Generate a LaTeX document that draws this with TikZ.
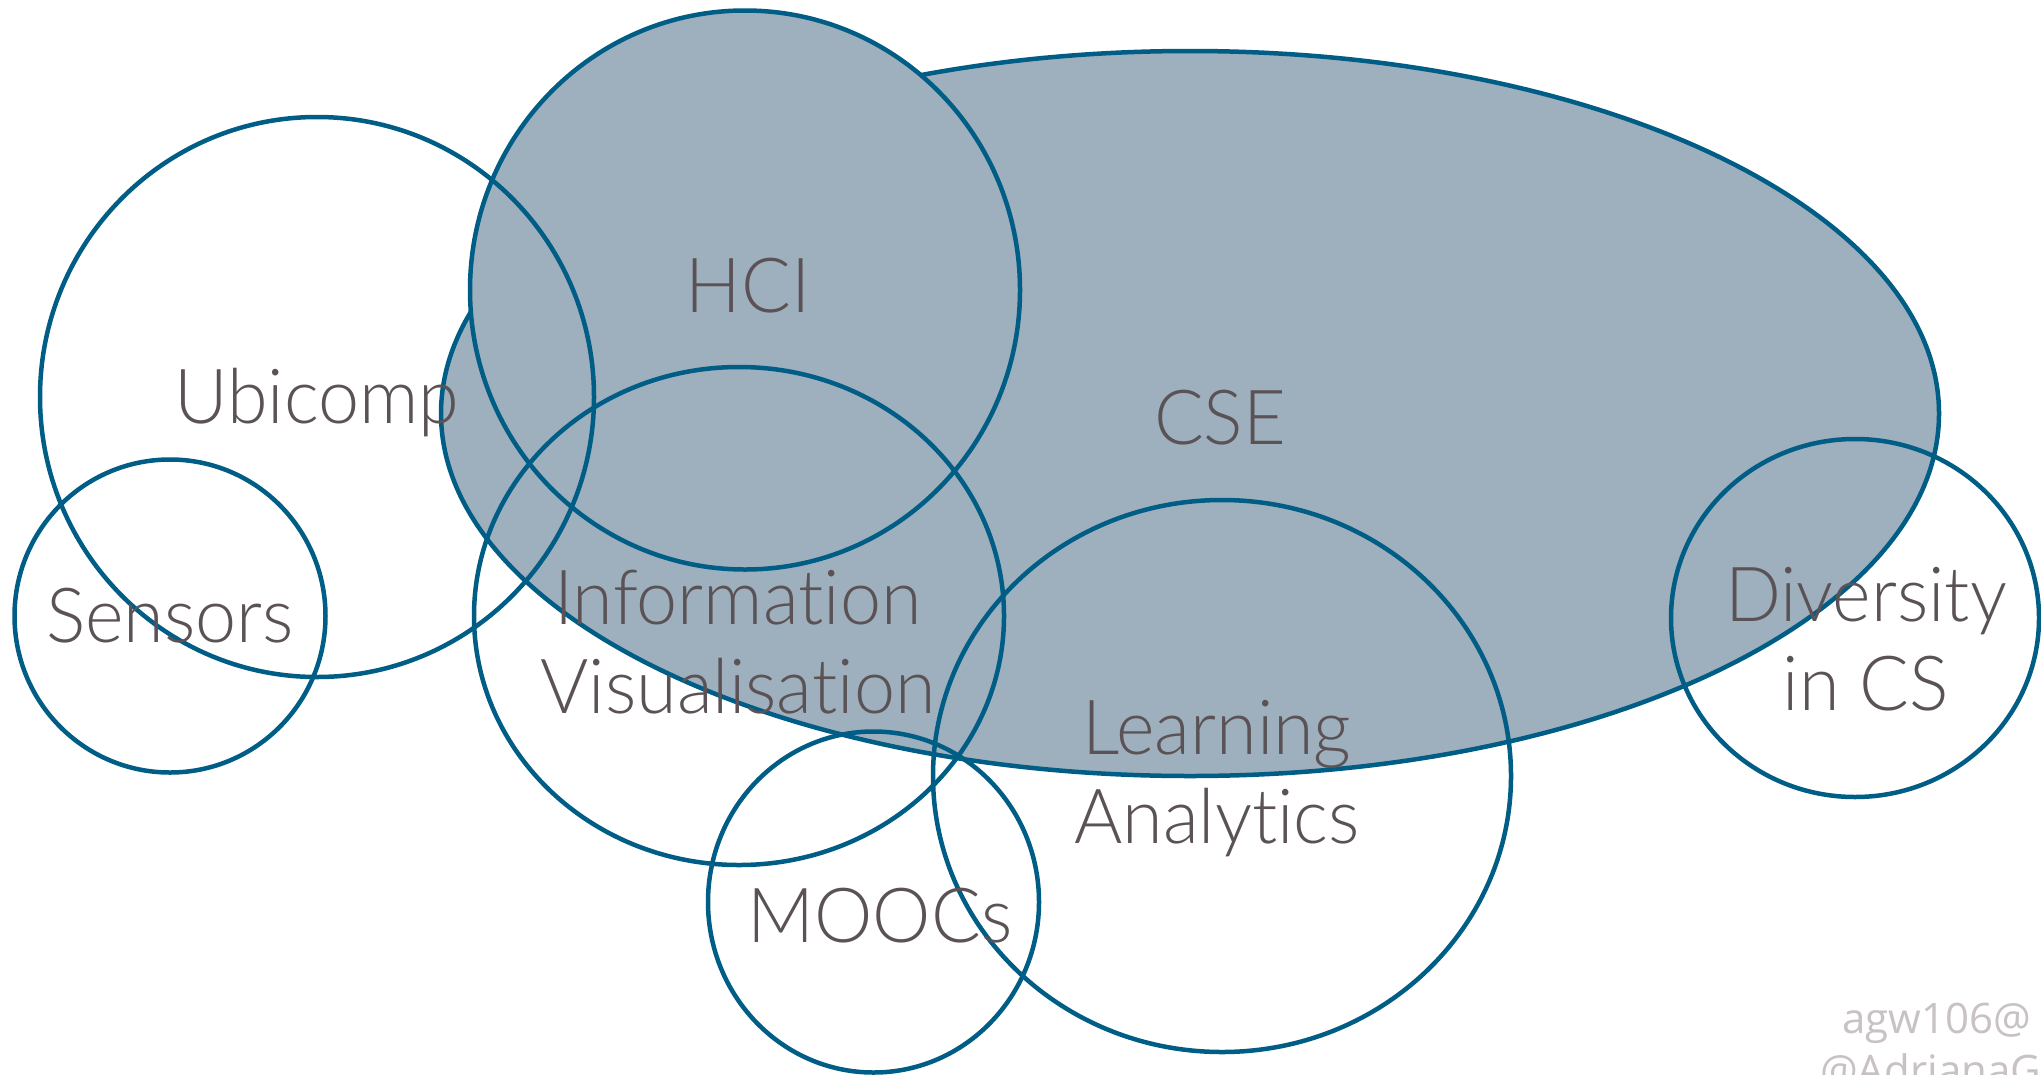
\documentclass[tikz,border=0pt]{standalone}
\usepackage{fontspec}
\setmainfont{Lato}[UprightFont=* Light, BoldFont=* Light, FakeStretch=0.97,
  Ligatures={NoCommon, NoRare, NoContextual}]
\newfontfamily\markfont{Open Sans}
\definecolor{setline}{RGB}{0,93,133}
\definecolor{setfill}{RGB}{158,176,189}
\definecolor{labelgray}{RGB}{91,82,86}
\definecolor{markgray}{RGB}{200,194,196}
\tikzset{
  outline/.style={draw=setline, line width=4.5pt},
  filledset/.style={outline, fill=setfill},
  % anchor=base sits on the baseline of the last line of a label
  setlabel/.style={text=labelgray, inner sep=0pt, anchor=base, align=center,
    font=\fontsize{76}{88.5}\selectfont},
  marklabel/.style={text=markgray, inner sep=0pt, anchor=base west,
    font=\markfont\fontsize{42}{52}\selectfont}
}
\begin{document}
\begin{tikzpicture}[x=1pt, y=-1pt]
  \useasboundingbox (0,0) rectangle (2041,1074);
  \clip (0,0) rectangle (2041,1074);
  \fill[white] (0,0) rectangle (2041,1074);

  % shaded sets: CSE, then HCI on top of it
  \draw[filledset] (1190,413.5) ellipse [x radius=749, y radius=362.5];
  \draw[filledset] (745,290) ellipse [x radius=275, y radius=279.5];

  % open sets
  \draw[outline] (317,397) ellipse [x radius=277, y radius=280];   % Ubicomp
  \draw[outline] (170,616) ellipse [x radius=155.5, y radius=156.5]; % Sensors
  \draw[outline] (739,616) ellipse [x radius=265, y radius=249];   % Information Visualisation
  \draw[outline] (1222,776) ellipse [x radius=289, y radius=276];  % Learning Analytics
  \draw[outline] (873.5,902) ellipse [x radius=165.5, y radius=170.5]; % MOOCs
  \draw[outline] (1855,618) ellipse [x radius=184, y radius=179];  % Diversity in CS

  % set names
  \node[setlabel] (hci) at (748,312) {HCI};
  \node[setlabel] (ubicomp) at (317,423) {Ubicomp};
  \node[setlabel] (cse) at (1220,444) {CSE};
  \node[setlabel] (sensors) at (170,642) {Sensors};
  \node[setlabel] (infovis) at (738,713) {Information\\Visualisation};
  \node[setlabel] (learning) at (1217,843) {Learning\\Analytics};
  \node[setlabel] (moocs) at (880,942) {MOOCs};
  \node[setlabel] (diversity) at (1866,710) {Diversity\\in CS};

  % author mark, running off the lower right corner
  \node[marklabel] (mail) at (1842,1033) {agw106@};
  \node[marklabel] (handle) at (1820,1085) {@AdrianaG};
\end{tikzpicture}
\end{document}
